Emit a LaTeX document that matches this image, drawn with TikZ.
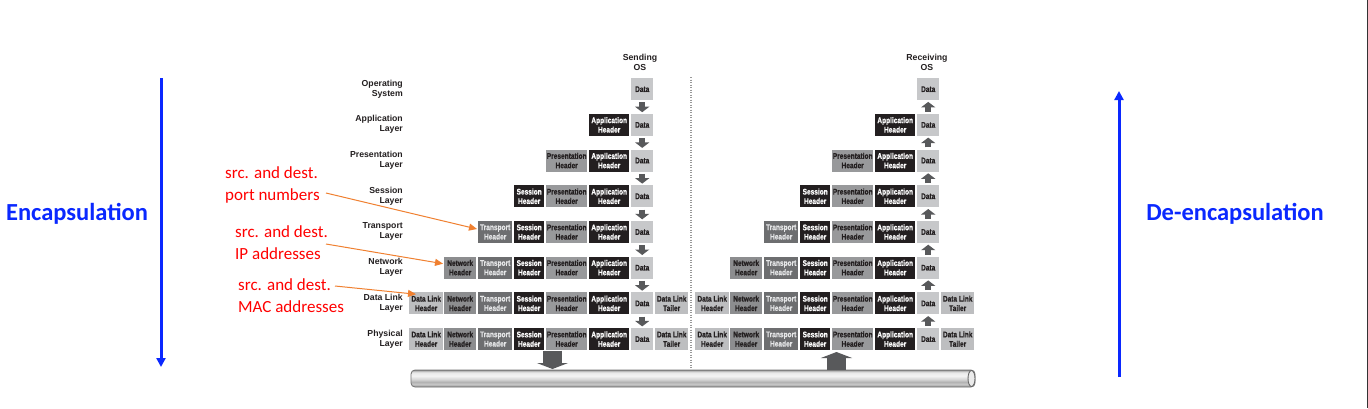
\documentclass[tikz,border=0pt]{standalone}
\usepackage{fontspec}
\usetikzlibrary{arrows.meta,calc}
\newfontfamily\boxfont{Liberation Sans Bold}[FakeStretch=0.8, FakeBold=0.6]
\newfontfamily\lblfont{Liberation Sans}
\newfontfamily\calib{Carlito}
\definecolor{cLight}{HTML}{BDBEC0}
\definecolor{cData}{HTML}{C7C8CA}
\definecolor{cNet}{HTML}{8C8D8F}
\definecolor{cTr}{HTML}{6D6E70}
\definecolor{cPres}{HTML}{98999B}
\definecolor{cBlk}{HTML}{231F20}
\definecolor{tDark}{HTML}{231F20}
\definecolor{tLight}{HTML}{E6E7E8}
\definecolor{arrc}{HTML}{58595B}
\definecolor{encblue}{RGB}{10,40,255}
\definecolor{annred}{RGB}{255,0,0}
\definecolor{orangec}{RGB}{240,128,48}
\definecolor{pa}{HTML}{7A7A7A}
\definecolor{pb}{HTML}{A2A2A2}
\definecolor{pc}{HTML}{C8C8C8}
\definecolor{pd}{HTML}{B2B2B2}
\definecolor{pe}{HTML}{D4D4D4}
\definecolor{pf}{HTML}{F4F4F4}
\definecolor{pg}{HTML}{E8E8E8}
\definecolor{ph}{HTML}{BCBCBC}
\definecolor{pi}{HTML}{8A8A8A}
\pgfdeclareverticalshading{pipe}{100bp}{color(0bp)=(pa); color(25bp)=(pa); color(28bp)=(pb); color(33bp)=(pc); color(40bp)=(pd); color(47bp)=(pe); color(58bp)=(pf); color(68bp)=(pg); color(72bp)=(ph); color(75bp)=(pi); color(100bp)=(pi)}
\tikzset{
  hb/.style={anchor=north west, minimum height=22pt, inner sep=0pt, align=center,
    font=\boxfont\fontsize{8.2}{9.4}\selectfont},
  lbl/.style={anchor=east, align=right, inner sep=0pt, text=tDark,
    font=\lblfont\bfseries\fontsize{8.7}{10}\selectfont},
  osl/.style={align=center, inner sep=0pt, text=tDark,
    font=\lblfont\bfseries\fontsize{8.7}{10}\selectfont},
  smallarr/.style={draw=arrc, line width=6pt, -{Triangle[width=14pt,length=5.5pt]},
    shorten <=2pt, shorten >=1.5pt},
  bigarr/.style={draw=arrc, line width=19pt, -{Triangle[width=31pt,length=6pt]}},
  annot/.style={anchor=west, align=left, inner sep=0pt, text=annred,
    font=\calib\fontsize{17}{21.5}\selectfont},
  oarr/.style={draw=orangec, line width=1pt, -{Triangle[width=7pt,length=8pt]}},
  barr/.style={draw=encblue, line width=3pt, -{Triangle[width=9pt,length=9pt]}},
  btext/.style={text=encblue, inner sep=0pt, font=\calib\bfseries\fontsize{24.5}{28}\selectfont}
}
\newcommand\cDLH[3]{\node[hb,fill=cLight,text=tDark,minimum width=34pt] (#1) at (#2+409,#3) {Data Link\\Header};}
\newcommand\cNH[3]{\node[hb,fill=cNet,text=tDark,minimum width=32pt] (#1) at (#2+444,#3) {Network\\Header};}
\newcommand\cTH[3]{\node[hb,fill=cTr,text=tLight,minimum width=34pt] (#1) at (#2+478,#3) {Transport\\Header};}
\newcommand\cSH[3]{\node[hb,fill=cBlk,text=white,minimum width=30pt] (#1) at (#2+514,#3) {Session\\Header};}
\newcommand\cPH[3]{\node[hb,fill=cPres,text=tDark,minimum width=41pt] (#1) at (#2+546,#3) {Presentation\\Header};}
\newcommand\cAH[3]{\node[hb,fill=cBlk,text=white,minimum width=40pt] (#1) at (#2+589,#3) {Application\\Header};}
\newcommand\cD[3]{\node[hb,fill=cData,text=tDark,minimum width=22pt] (#1) at (#2+631,#3) {Data};}
\newcommand\cDLT[3]{\node[hb,fill=cLight,text=tDark,minimum width=33pt] (#1) at (#2+655,#3) {Data Link\\Tailer};}
\newcommand\stack[2]{%
  \cD{#10d}{#2}{78}
  \cAH{#11a}{#2}{113.7}\cD{#11d}{#2}{113.7}
  \cPH{#12p}{#2}{149.4}\cAH{#12a}{#2}{149.4}\cD{#12d}{#2}{149.4}
  \cSH{#13s}{#2}{185.1}\cPH{#13p}{#2}{185.1}\cAH{#13a}{#2}{185.1}\cD{#13d}{#2}{185.1}
  \cTH{#14t}{#2}{220.8}\cSH{#14s}{#2}{220.8}\cPH{#14p}{#2}{220.8}\cAH{#14a}{#2}{220.8}\cD{#14d}{#2}{220.8}
  \cNH{#15n}{#2}{256.5}\cTH{#15t}{#2}{256.5}\cSH{#15s}{#2}{256.5}\cPH{#15p}{#2}{256.5}\cAH{#15a}{#2}{256.5}\cD{#15d}{#2}{256.5}
  \cDLH{#16l}{#2}{292.2}\cNH{#16n}{#2}{292.2}\cTH{#16t}{#2}{292.2}\cSH{#16s}{#2}{292.2}\cPH{#16p}{#2}{292.2}\cAH{#16a}{#2}{292.2}\cD{#16d}{#2}{292.2}\cDLT{#16e}{#2}{292.2}
  \cDLH{#17l}{#2}{327.9}\cNH{#17n}{#2}{327.9}\cTH{#17t}{#2}{327.9}\cSH{#17s}{#2}{327.9}\cPH{#17p}{#2}{327.9}\cAH{#17a}{#2}{327.9}\cD{#17d}{#2}{327.9}\cDLT{#17e}{#2}{327.9}
}
\begin{document}
\begin{tikzpicture}[x=1pt,y=-1pt]
\useasboundingbox (0,0) rectangle (1368,408);
\fill[white] (0,0) rectangle (1368,408);
\draw[line width=1pt, black!80] (1367.5,0) -- (1367.5,408);

% layer labels
\node[lbl] (l0) at (403,89) {Operating\\System};
\node[lbl] (l1) at (403,124.7) {Application\\Layer};
\node[lbl] (l2) at (403,160.4) {Presentation\\Layer};
\node[lbl] (l3) at (403,196.1) {Session\\Layer};
\node[lbl] (l4) at (403,231.8) {Transport\\Layer};
\node[lbl] (l5) at (403,267.5) {Network\\Layer};
\node[lbl] (l6) at (403,303.2) {Data Link\\Layer};
\node[lbl] (l7) at (403,338.9) {Physical\\Layer};

\node[osl] (sos) at (640,62) {Sending\\OS};
\node[osl] (ros) at (927,62) {Receiving\\OS};

% stacks
\stack{s}{0}
\stack{r}{286}

% small arrows
\foreach \i [evaluate=\i as \j using int(\i+1)] in {0,...,6} {
  \draw[smallarr] (s\i d) -- (s\j d);
  \draw[smallarr] (r\j d) -- (r\i d);
}

% dotted separator
\draw[color=black!40, line width=1.6pt, dash pattern=on 1.4pt off 1.1pt] (691,77) -- (691,368);

% pipe
\shade[shading=pipe, rounded corners=4pt] (411,370) rectangle (975,387);
\draw[color=black!55, line width=0.8pt, rounded corners=4pt] (411,370) rectangle (975,387);
\draw[color=black!60, fill=white!92!black, line width=0.9pt] (971.5,378.5) ellipse [x radius=3.5pt, y radius=8pt];

% big arrows
\coordinate (sb1) at (552.5,350.5);
\coordinate (sb2) at (552.5,369);
\coordinate (rb1) at (836.5,370);
\coordinate (rb2) at (836.5,352);
\draw[bigarr] (sb1) -- (sb2);
\draw[bigarr] (rb1) -- (rb2);

% blue arrows and text
\coordinate (ea1) at (161,78);
\coordinate (ea2) at (161,367);
\coordinate (da1) at (1119,377);
\coordinate (da2) at (1119,91);
\draw[barr] (ea1) -- (ea2);
\draw[barr] (da1) -- (da2);
\node[btext] (enc) at (77,214) {Encapsulation};
\node[btext] (denc) at (1235,214) {De-encapsulation};

% annotations
\node[annot] (a1) at (225,185) {src. and dest.\\port numbers};
\node[annot] (a2) at (235,242.5) {src. and dest.\\IP addresses};
\node[annot] (a3) at (238,295.5) {src. and dest.\\MAC addresses};
\coordinate (o1) at (326,193);
\coordinate (o2) at (326,244);
\coordinate (o3) at (335,286);
\draw[oarr] (o1) -- ($(s4t.west)+(-1,-3)$);
\draw[oarr] (o2) -- ($(s5n.west)+(-1,-4)$);
\draw[oarr] (o3) -- ($(s6l.north west)+(7,2)$);
\end{tikzpicture}
\end{document}
